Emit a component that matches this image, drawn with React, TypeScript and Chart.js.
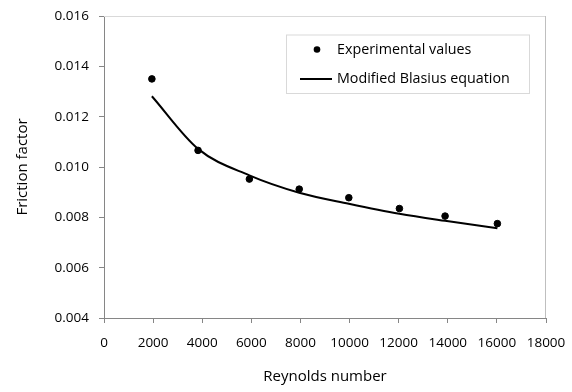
import React, { useEffect, useRef } from "react";
import { Chart, registerables } from "chart.js";

Chart.register(...registerables);

const reynoldsExp = [1950, 3830, 5920, 7950, 9970, 12030, 13890, 16020];
const frictionExp = [0.0135, 0.01066, 0.00952, 0.00912, 0.00878, 0.00835, 0.00805, 0.00775];
const frictionBlasius = [0.01281, 0.01072, 0.00967, 0.00898, 0.00854, 0.00814, 0.00786, 0.00757];
const seriesNames = ["Experimental values", "Modified Blasius equation"];
const xTitle = "Reynolds number";
const yTitle = "Friction factor";

const FONT = "'Open Sans', 'Noto Sans', sans-serif";

const frameAndLegend = {
  id: "frameAndLegend",
  beforeDatasetsDraw(chart: any) {
    const { ctx, chartArea: a } = chart;
    ctx.save();
    ctx.lineWidth = 1;
    ctx.strokeStyle = "#d9d9d9";
    ctx.beginPath();
    ctx.moveTo(a.left, a.top + 0.5);
    ctx.lineTo(a.right, a.top + 0.5);
    ctx.stroke();
    ctx.strokeStyle = "#bfbfbf";
    ctx.beginPath();
    ctx.moveTo(a.right - 0.5, a.top);
    ctx.lineTo(a.right - 0.5, a.bottom);
    ctx.stroke();
    ctx.restore();
  },
  afterDraw(chart: any) {
    const { ctx, chartArea: a } = chart;
    const bx = a.left + 182;
    const by = a.top + 18.5;
    const bw = 243;
    const bh = 58.5;
    ctx.save();
    ctx.fillStyle = "#ffffff";
    ctx.fillRect(bx, by, bw, bh);
    ctx.strokeStyle = "#d9d9d9";
    ctx.lineWidth = 1;
    ctx.strokeRect(bx + 0.5, by + 0.5, bw, bh);
    ctx.fillStyle = "#000";
    ctx.beginPath();
    ctx.arc(bx + 31, by + 15, 3.3, 0, Math.PI * 2);
    ctx.fill();
    ctx.strokeStyle = "#000";
    ctx.lineWidth = 2;
    ctx.beginPath();
    ctx.moveTo(bx + 14, by + 44.5);
    ctx.lineTo(bx + 46, by + 44.5);
    ctx.stroke();
    ctx.font = `14.3px ${FONT}`;
    ctx.textBaseline = "middle";
    ctx.textAlign = "left";
    ctx.fillText(seriesNames[0], bx + 51, by + 15);
    ctx.fillText(seriesNames[1], bx + 51, by + 44.5);
    ctx.restore();
  },
};

export default function App() {
  const ref = useRef<HTMLCanvasElement>(null);
  useEffect(() => {
    const c = ref.current!;
    const chart = new Chart(c, {
      type: "scatter",
      data: {
        datasets: [
          {
            label: seriesNames[0],
            data: reynoldsExp.map((x, i) => ({ x, y: frictionExp[i] })),
            pointRadius: 3.3,
            pointBackgroundColor: "#000",
            pointBorderColor: "#000",
            showLine: false,
            order: 0,
          },
          {
            label: seriesNames[1],
            data: reynoldsExp.map((x, i) => ({ x, y: frictionBlasius[i] })),
            showLine: true,
            pointRadius: 0,
            borderColor: "#000",
            borderWidth: 2,
            cubicInterpolationMode: "monotone",
            order: 1,
          },
        ],
      },
      options: {
        responsive: false,
        animation: false,
        layout: { padding: { left: 0, right: 26, top: 16, bottom: 0 } },
        plugins: { legend: { display: false }, tooltip: { enabled: false } },
        scales: {
          x: {
            type: "linear",
            min: 0,
            max: 18000,
            afterFit: (s: any) => {
              s.height = 74;
              s.paddingLeft = 0;
              s.paddingRight = 0;
            },
            ticks: {
              stepSize: 2000,
              color: "#000",
              padding: 12,
              maxRotation: 0,
              font: { family: FONT, size: 13.5 },
              callback: (v: any) => String(v),
            },
            grid: { drawOnChartArea: false, tickLength: 5, color: "#868686" },
            border: { color: "#868686", width: 1 },
            title: {
              display: true,
              text: xTitle,
              color: "#000",
              font: { family: FONT, size: 15 },
              padding: { top: 0, bottom: 6 },
            },
          },
          y: {
            type: "linear",
            min: 0.004,
            max: 0.016,
            afterFit: (s: any) => {
              s.width = 104;
              s.paddingTop = 0;
              s.paddingBottom = 0;
            },
            ticks: {
              stepSize: 0.002,
              color: "#000",
              padding: 10,
              font: { family: FONT, size: 13.5 },
              callback: (v: any) => Number(v).toFixed(3),
            },
            grid: { drawOnChartArea: false, tickLength: 5, color: "#868686" },
            border: { color: "#868686", width: 1 },
            title: {
              display: true,
              text: yTitle,
              color: "#000",
              font: { family: FONT, size: 15 },
              padding: { top: 14, bottom: 0 },
            },
          },
        },
      },
      plugins: [frameAndLegend],
    } as any);
    return () => chart.destroy();
  }, []);
  return (
    <div style={{ position: "fixed", left: 0, top: 0, width: 572, height: 392, background: "#fff" }}>
      <canvas ref={ref} width={572} height={392} style={{ display: "block" }} />
    </div>
  );
}
